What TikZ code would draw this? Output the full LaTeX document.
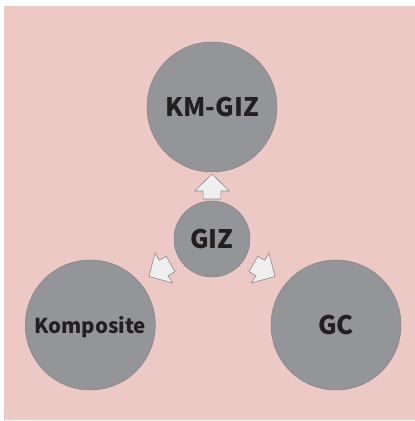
\documentclass[tikz,border=0pt]{standalone}
\usepackage{fontspec}
\newfontfamily\labelfont{Noto Sans CJK SC}
\usetikzlibrary{calc}
\definecolor{bgpink}{HTML}{EDC9C5}
\definecolor{discgray}{HTML}{939598}
\definecolor{discedge}{HTML}{808285}
\definecolor{inktext}{HTML}{231F20}
\definecolor{arrowfill}{HTML}{EFEFEF}
\definecolor{arrowedge}{HTML}{8A8A8A}
\tikzset{
  disc/.style={circle, fill=discgray, draw=discedge, line width=0.5pt,
    inner sep=0pt, text=inktext, text depth=0pt},
  bigdisc/.style={disc, minimum size=130pt},
  smalldisc/.style={disc, minimum size=76pt},
  bigtext/.style={font=\labelfont\bfseries\fontsize{25.5}{25.5}\selectfont},
  smalltext/.style={font=\labelfont\bfseries\fontsize{20.5}{20.5}\selectfont},
  blockarrow/.style={fill=arrowfill, draw=arrowedge, line width=0.6pt, line join=miter},
}
\begin{document}
\begin{tikzpicture}[x=1pt, y=1pt]
  \useasboundingbox (0,0) rectangle (415,421);
  % background panel
  \fill[bgpink] (4,0.5) rectangle (415,415);

  % discs
  \node[bigdisc, bigtext] (km) at (212,314) {KM-GIZ};
  \node[smalldisc, bigtext] (giz) at (212,182) {GIZ};
  \node[bigdisc, smalltext] (komp) at (90.3,96) {Komposite};
  \node[bigdisc, bigtext] (gc) at (336,96) {GC};

  % tips of the block arrows, measured from the centre disc
  \coordinate (tipU) at ($(giz.center)+(0,65)$);
  \coordinate (tipL) at ($(giz.center)+(-63,-37.5)$);
  \coordinate (tipR) at ($(giz.center)+(63,-37.5)$);

  % block arrows from GIZ to the three outer discs
  \foreach \tip/\ang in {tipU/0, tipL/120, tipR/-120}{
    \draw[blockarrow, shift={(\tip)}, rotate=\ang]
      (0,0) -- (-17.3,-17) -- (-8.85,-17) -- (-8.85,-25)
      -- (8.85,-25) -- (8.85,-17) -- (17.3,-17) -- cycle;
  }
\end{tikzpicture}
\end{document}
